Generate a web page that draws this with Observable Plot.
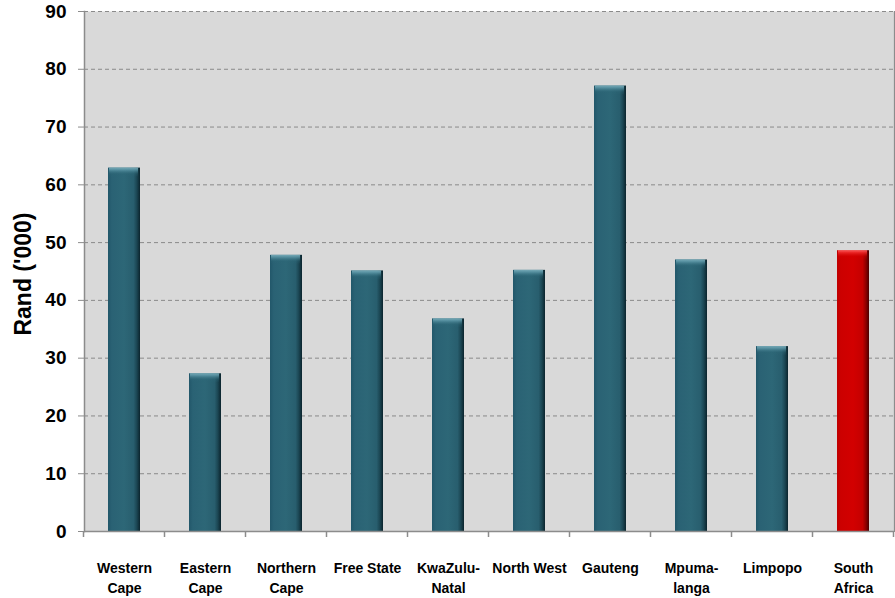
<!DOCTYPE html>
<html>
<head>
<meta charset="utf-8">
<script src="https://cdn.jsdelivr.net/npm/d3@7"></script>
<script src="https://cdn.jsdelivr.net/npm/@observablehq/plot@0.6"></script>
<style>
  html, body { margin: 0; padding: 0; background: #ffffff; }
  #chart svg { display: block; }
</style>
</head>
<body>
<div id="chart"></div>
<script>
const categories = ["Western Cape", "Eastern Cape", "Northern Cape", "Free State", "KwaZulu-Natal", "North West", "Gauteng", "Mpumalanga", "Limpopo", "South Africa"];
const categoryLabels = ["Western\nCape", "Eastern\nCape", "Northern\nCape", "Free State", "KwaZulu-\nNatal", "North West", "Gauteng", "Mpuma-\nlanga", "Limpopo", "South\nAfrica"];
const values = [62.9, 27.3, 47.8, 45.1, 36.8, 45.2, 77.1, 47.0, 32.0, 48.6];
const highlighted = ["South Africa"];
const yTicks = [0, 10, 20, 30, 40, 50, 60, 70, 80, 90];
const yLabel = "Rand ('000)";

const data = categories.map((c, i) => ({cat: c, label: categoryLabels[i], value: values[i], hi: highlighted.includes(c)}));

const NS = "http://www.w3.org/2000/svg";
function defsMark() {
  const defs = document.createElementNS(NS, "defs");
  const mk = (id, stops, vertical) => {
    const g = document.createElementNS(NS, "linearGradient");
    g.setAttribute("id", id);
    g.setAttribute("x1", "0"); g.setAttribute("y1", "0");
    g.setAttribute("x2", vertical ? "0" : "1"); g.setAttribute("y2", vertical ? "1" : "0");
    for (const [o, c, op] of stops) {
      const s = document.createElementNS(NS, "stop");
      s.setAttribute("offset", o);
      s.setAttribute("stop-color", c);
      if (op != null) s.setAttribute("stop-opacity", op);
      g.appendChild(s);
    }
    defs.appendChild(g);
  };
  mk("gTeal", [["0", "#22576a"], ["0.12", "#2a6274"], ["0.5", "#2d6777"], ["0.8", "#285e6e"], ["0.9", "#1b4653"], ["1", "#0b242d"]]);
  mk("gRed", [["0", "#bf0000"], ["0.12", "#cc0000"], ["0.5", "#d20000"], ["0.8", "#c40000"], ["0.9", "#900000"], ["1", "#4a0000"]]);
  mk("gBevelTeal", [["0", "#7fb2bf", 0.9], ["0.25", "#5e98a8", 0.8], ["0.7", "#2d6777", 0.3], ["1", "#2d6777", 0]], true);
  mk("gBevelRed", [["0", "#ff6a6a", 0.9], ["0.25", "#f03030", 0.8], ["0.7", "#d20000", 0.3], ["1", "#d20000", 0]], true);
  return defs;
}

const font = "'Liberation Sans', Arial, sans-serif";
const bevelUnits = 1.6;

const chart = Plot.plot({
  width: 895,
  height: 598,
  marginLeft: 84,
  marginRight: 1,
  marginTop: 11,
  marginBottom: 67,
  style: {background: "#ffffff", fontFamily: font},
  x: {domain: categories, paddingInner: 0.6, paddingOuter: 0.3, axis: null},
  y: {domain: [0, 90], axis: null},
  color: {type: "identity"},
  marks: [
    defsMark,
    Plot.frame({fill: "#d9d9d9", stroke: null}),
    Plot.gridY(yTicks.filter(d => d > 0), {stroke: "#8a8a8a", strokeOpacity: 1, strokeDasharray: "4,3", strokeWidth: 1}),
    Plot.frame({anchor: "right", stroke: "#8c8c8c", strokeWidth: 1.2}),
    Plot.frame({anchor: "left", stroke: "#8c8c8c", strokeWidth: 1.5}),
    Plot.axisY({ticks: yTicks, tickSize: 6, tickPadding: 12, stroke: "#8c8c8c", fill: "#000", fontSize: 19, fontWeight: "bold", fontFamily: font, label: null}),
    Plot.barY(data, {x: "cat", y: "value", fill: d => d.hi ? "url(#gRed)" : "url(#gTeal)"}),
    Plot.barY(data, {x: "cat", y1: d => d.value - bevelUnits, y2: "value", insetLeft: 1, insetRight: 2, fill: d => d.hi ? "url(#gBevelRed)" : "url(#gBevelTeal)"}),
    Plot.ruleY([0], {stroke: "#8c8c8c", strokeWidth: 1.5}),
    Plot.text(data, {x: "cat", y: 0, text: "label", lineAnchor: "top", dy: 27, lineHeight: 1.43, fontSize: 14, fontWeight: "bold", fontFamily: font, fill: "#000"})
  ]
});

document.getElementById("chart").appendChild(chart);

// category boundary ticks derived from the x scale
const xs = chart.scale("x");
const ys = chart.scale("y");
const svg = d3.select(chart);
const bw = xs.bandwidth, step = xs.step;
const y0 = ys.apply(0);
const bounds = [];
categories.forEach((c, i) => {
  const cx = xs.apply(c) + bw / 2;
  if (i === 0) bounds.push(cx - step / 2);
  bounds.push(cx + step / 2);
});
svg.append("g").selectAll("line").data(bounds).join("line")
  .attr("x1", d => d).attr("x2", d => d)
  .attr("y1", y0).attr("y2", y0 + 6)
  .attr("stroke", "#8c8c8c").attr("stroke-width", 1.5);

// y axis title
const yMid = (ys.apply(0) + ys.apply(90)) / 2;
svg.append("text")
  .attr("transform", `translate(31,${yMid + 3}) rotate(-90)`)
  .attr("text-anchor", "middle")
  .attr("font-family", font)
  .attr("font-weight", "bold")
  .attr("font-size", 23)
  .attr("fill", "#000")
  .text(yLabel);
</script>
</body>
</html>
